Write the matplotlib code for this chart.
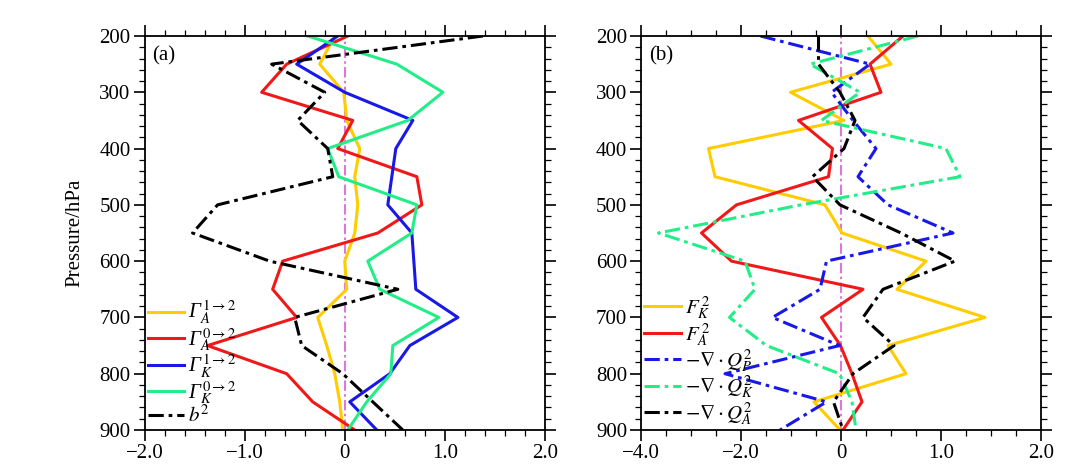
import matplotlib
matplotlib.use('Agg')
import matplotlib.pyplot as plt
from matplotlib.ticker import MultipleLocator, FixedLocator, FixedFormatter
import numpy as np

plt.rcParams['font.family'] = ['Liberation Serif', 'DejaVu Serif']
plt.rcParams['mathtext.fontset'] = 'stix'
plt.rcParams['axes.unicode_minus'] = True

# pressure levels (hPa)
levels = [200, 250, 300, 350, 400, 450, 500, 550, 600, 650, 700, 750, 800, 850, 900]

# panel (a)
gamma_a12 = [-0.10, -0.25, -0.01, 0.02, 0.15, 0.10, 0.13, 0.10, 0.00, 0.02, -0.27, -0.18, -0.10, -0.05, -0.02]
gamma_a02 = [0.03, -0.58, -0.83, 0.08, -0.07, 0.72, 0.77, 0.33, -0.62, -0.72, -0.48, -1.37, -0.58, -0.32, 0.10]
gamma_k12 = [-0.07, -0.48, 0.00, 0.68, 0.51, 0.47, 0.43, 0.67, 0.69, 0.71, 1.13, 0.65, 0.45, 0.05, 0.32]
gamma_k02 = [-0.37, 0.52, 0.98, 0.63, -0.17, -0.06, 0.72, 0.67, 0.23, 0.35, 0.94, 0.48, 0.46, 0.22, 0.03]
b2 = [1.38, -0.73, -0.20, -0.47, -0.17, -0.12, -1.27, -1.52, -0.75, 0.53, -0.50, -0.43, -0.02, 0.28, 0.58]

# panel (b)
fk2 = [0.27, 0.50, -1.01, 0.03, -2.65, -2.52, -0.32, 0.01, 0.85, 0.56, 1.44, 0.47, 0.65, -0.54, -0.02]
fa2 = [0.62, 0.29, 0.40, -0.85, -0.17, -0.25, -2.09, -2.79, -2.19, 0.22, -0.39, -0.01, 0.11, 0.21, 0.02]
qp2 = [-1.61, 0.29, -0.19, 0.12, 0.35, 0.17, 0.47, 1.12, -0.29, -0.42, -1.37, -0.03, -2.32, -0.29, -1.22]
qk2 = [0.77, -0.62, 0.19, -0.39, 1.05, 1.19, -0.80, -3.65, -1.92, -1.72, -2.23, -1.49, -0.03, 0.11, 0.15]
qa2 = [-0.45, -0.45, -0.02, 0.14, 0.03, -0.57, -0.02, 0.60, 1.14, 0.42, 0.22, 0.53, 0.12, -0.15, 0.02]

xticks_a = [-2.0, -1.0, 0.0, 1.0, 2.0]
xlabels_a = ['\u22122.0', '\u22121.0', '0', '1.0', '2.0']
xticks_b = [-4.0, -2.0, 0.0, 1.0, 2.0]
xlabels_b = ['\u22124.0', '\u22122.0', '0', '1.0', '2.0']

YEL = '#FFCC00'
RED = '#F01818'
BLU = '#1818E8'
GRN = '#22EE88'
MAG = '#DD77DD'
dashdot = (0, (5, 1.6, 1.2, 1.6))

fig = plt.figure(figsize=(10.9, 4.67), dpi=100)
ax1 = fig.add_axes([144.5 / 1090, 37 / 467, 400.5 / 1090, 394 / 467])
ax2 = fig.add_axes([641 / 1090, 37 / 467, 400 / 1090, 394 / 467])


def style_axis(ax):
    ax.set_ylim(900, 200)
    ax.yaxis.set_major_locator(MultipleLocator(100))
    ax.yaxis.set_minor_locator(MultipleLocator(20))
    ax.tick_params(which='both', direction='out', top=True, right=True,
                   labelsize=15, width=1.2, pad=2)
    ax.tick_params(which='major', length=8)
    ax.tick_params(which='minor', length=4, width=0.9)
    for s in ax.spines.values():
        s.set_linewidth(1.3)


leg_kw = dict(loc='lower left', frameon=False, handlelength=1.75,
              handletextpad=0.2, labelspacing=-0.02, borderaxespad=0.05, borderpad=0.1)

# ---- (a)
ax1.axvline(0, color=MAG, ls=dashdot, lw=1.5, zorder=1)
ax1.plot(gamma_a12, levels, color=YEL, lw=2.2, label='\u0393' + r'$_A^{\,\mathrm{1\rightarrow2}}$')
ax1.plot(gamma_a02, levels, color=RED, lw=2.2, label='\u0393' + r'$_A^{\,\mathrm{0\rightarrow2}}$')
ax1.plot(gamma_k12, levels, color=BLU, lw=2.2, label='\u0393' + r'$_K^{\,\mathrm{1\rightarrow2}}$')
ax1.plot(gamma_k02, levels, color=GRN, lw=2.2, label='\u0393' + r'$_K^{\,\mathrm{0\rightarrow2}}$')
ax1.plot(b2, levels, color='black', lw=2.2, ls=dashdot, label=r'$b^2$')
ax1.set_xlim(-2, 2)
ax1.xaxis.set_major_locator(FixedLocator(xticks_a))
ax1.xaxis.set_major_formatter(FixedFormatter(xlabels_a))
ax1.xaxis.set_minor_locator(MultipleLocator(0.2))
style_axis(ax1)
ax1.set_ylabel('Pressure/hPa', fontsize=15)
ax1.yaxis.set_label_coords(-0.151, 0.5)
ax1.text(0.02, 0.975, '(a)', transform=ax1.transAxes, fontsize=15, va='top', ha='left')
ax1.legend(prop={'size': 15, 'style': 'italic'}, **leg_kw)

# ---- (b): left half compressed (2 units per major), right half 1 unit per major


def fwd(x):
    x = np.asarray(x, dtype=float)
    return np.where(x < 0, x / 2.0, x)


def inv(y):
    y = np.asarray(y, dtype=float)
    return np.where(y < 0, y * 2.0, y)


ax2.set_xscale('function', functions=(fwd, inv))
ax2.axvline(0, color=MAG, ls=dashdot, lw=1.5, zorder=1)
ax2.plot(fk2, levels, color=YEL, lw=2.2, label=r'$F_K^{\,2}$')
ax2.plot(fa2, levels, color=RED, lw=2.2, label=r'$F_A^{\,2}$')
ax2.plot(qp2, levels, color=BLU, lw=2.2, ls=dashdot, label=r'$-\nabla\cdot Q_P^2$')
ax2.plot(qk2, levels, color=GRN, lw=2.2, ls=dashdot, label=r'$-\nabla\cdot Q_K^2$')
ax2.plot(qa2, levels, color='black', lw=2.2, ls=dashdot, label=r'$-\nabla\cdot Q_A^2$')
ax2.set_xlim(-4, 2)
ax2.xaxis.set_major_locator(FixedLocator(xticks_b))
ax2.xaxis.set_major_formatter(FixedFormatter(xlabels_b))
ax2.xaxis.set_minor_locator(FixedLocator(np.concatenate([np.arange(-4, 0, 0.5), np.arange(0, 2.01, 0.25)])))
style_axis(ax2)
ax2.text(0.02, 0.975, '(b)', transform=ax2.transAxes, fontsize=15, va='top', ha='left')
ax2.legend(prop={'size': 15}, **leg_kw)

fig.savefig('out.png', dpi=100)
